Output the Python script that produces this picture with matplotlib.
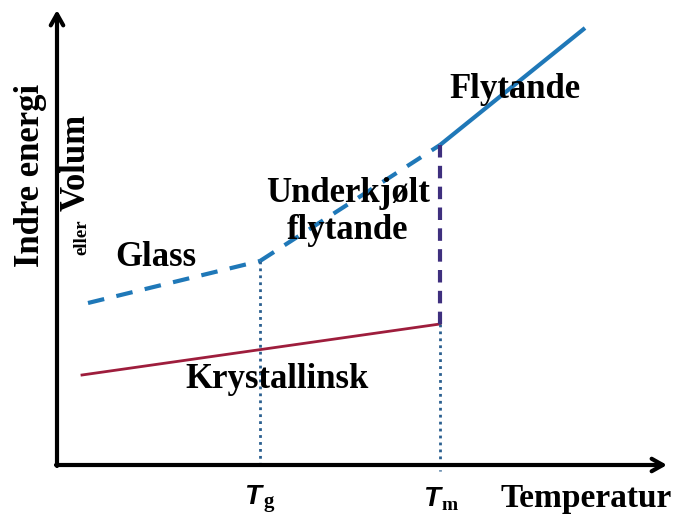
import matplotlib.pyplot as plt

# data (pixel-like units, y grows downward)
axis_origin = (57, 465)
x_axis_end = (667, 465)
y_axis_end = (57, 10)

cryst_x = [82, 440]
cryst_y = [375, 324]

glass_x = [88, 260]
glass_y = [303, 261]

super_x = [260, 440]
super_y = [261, 145]

liquid_x = [440, 585]
liquid_y = [145, 28]

Tg = 260
Tm = 440

blue = '#1f78b8'
serif = 'Liberation Serif'

fig = plt.figure(figsize=(6.91, 5.22), dpi=100)
ax = fig.add_axes([0, 0, 1, 1])
ax.set_xlim(0, 691)
ax.set_ylim(522, 0)
ax.axis('off')

# axes with arrows
arrow = dict(arrowstyle='->,head_length=0.8,head_width=0.45', lw=3, color='black',
             shrinkA=0, shrinkB=0)
ax.annotate('', xy=x_axis_end, xytext=(axis_origin[0] - 1, axis_origin[1]), arrowprops=arrow)
ax.annotate('', xy=y_axis_end, xytext=(axis_origin[0], axis_origin[1] + 1), arrowprops=arrow)

# curves
ax.plot(cryst_x, cryst_y, color='#9e1d3c', lw=2)
ax.plot(glass_x, glass_y, color=blue, lw=3, dashes=(4, 3))
ax.plot(super_x, super_y, color=blue, lw=3, dashes=(4, 3))
ax.plot(liquid_x, liquid_y, color=blue, lw=3, solid_capstyle='butt')

# verticals
ax.plot([Tg, Tg], [glass_y[1], axis_origin[1] + 3], color='#2a5f8f', lw=2, ls=(0, (1, 1.5)))
ax.plot([Tm, Tm], [cryst_y[1], axis_origin[1] + 6], color='#2a5f8f', lw=2, ls=(0, (1, 1.5)))
ax.plot([Tm, Tm], [super_y[1], cryst_y[1]], color='#3e2f7e', lw=3, dashes=(3, 2))

# labels
tk = dict(family=serif, weight='bold', fontsize=25, color='black')
ax.text(515, 90, 'Flytande', ha='center', va='center', **tk)
ax.text(348, 212, 'Underkjølt\nflytande', ha='center', va='center', linespacing=1.15, **tk)
ax.text(156, 257, 'Glass', ha='center', va='center', **tk)
ax.text(277, 379, 'Krystallinsk', ha='center', va='center', **tk)
ax.text(586, 498, 'Temperatur', ha='center', va='center',
        family=serif, weight='bold', fontsize=24)

ax.text(31, 175, 'Indre energi', ha='center', va='center', rotation=90, **tk)
ax.text(76, 162, 'Volum', ha='center', va='center', rotation=90, **tk)
ax.text(82, 237, 'eller', ha='center', va='center', rotation=90,
        family=serif, weight='bold', fontsize=13.5)

tt = dict(family='Liberation Sans', weight='bold', style='italic', fontsize=20)
ax.text(Tg - 7, 497, 'T', ha='center', va='center', **tt)
ax.text(Tg + 4, 502, 'g', ha='left', va='center', family=serif, weight='bold', fontsize=15)
ax.text(Tm - 8, 499, 'T', ha='center', va='center', **tt)
ax.text(Tm + 2, 505, 'm', ha='left', va='center', family=serif, weight='bold', fontsize=14)

fig.savefig('out.png', dpi=100)
